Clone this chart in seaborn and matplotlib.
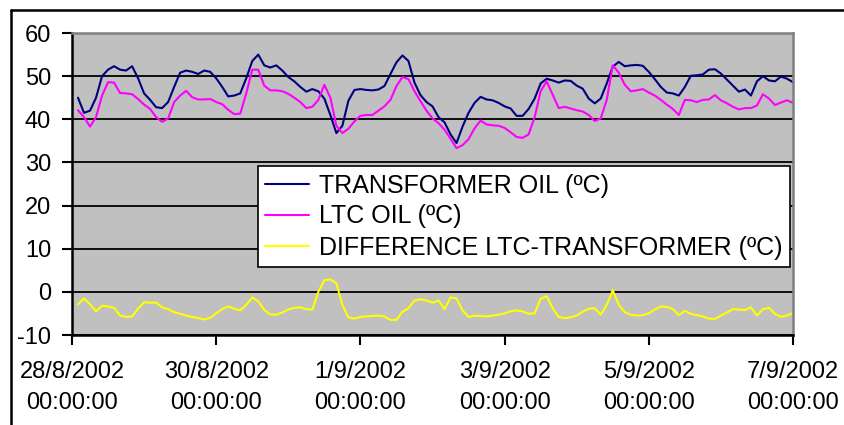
import pandas as pd
import matplotlib
matplotlib.use('Agg')
import matplotlib.pyplot as plt
import seaborn as sns

# readings every 2 hours, 28/8/2002 02:00 .. 7/9/2002 00:00
times = pd.date_range('2002-08-28 02:00', periods=120, freq='2h')

transformer_oil = [
    45, 41.5, 42, 45, 50, 51.5, 52.3, 51.5, 51.3, 52.3, 49.5, 46,
    44.5, 42.8, 42.6, 44, 47.5, 50.8, 51.3, 51, 50.5, 51.3, 51, 49.5,
    47.5, 45.3, 45.5, 46, 49.5, 53.5, 55, 52.5, 52, 52.5, 51.3, 49.8,
    48.8, 47.5, 46.4, 47, 46.5, 44.8, 41, 36.8, 38.5, 44.3, 46.8, 47,
    46.8, 46.7, 46.9, 47.7, 50.5, 53.2, 54.8, 53.5, 48.5, 45.6, 44, 43,
    40.5, 39.3, 36.5, 34.5, 38.3, 41.5, 43.8, 45.2, 44.6, 44.4, 43.8, 43,
    42.5, 40.8, 40.8, 42.4, 44.8, 48.3, 49.4, 49, 48.5, 49, 48.9, 47.8,
    47.1, 44.8, 43.7, 44.8, 48.3, 52.2, 53.3, 52.3, 52.5, 52.6, 52.4, 51,
    49.3, 47.5, 46.2, 46, 45.5, 47.5, 50.1, 50.2, 50.4, 51.5, 51.6, 50.6,
    49.2, 47.8, 46.4, 46.9, 45.5, 48.8, 50, 49, 48.8, 49.9, 49.4, 48.6,
]

ltc_oil = [
    42.1, 40.5, 38.3, 40.5, 45.5, 48.6, 48.5, 46.1, 46, 45.8, 44.7, 43.4,
    42.4, 40.5, 39.4, 40.2, 44, 45.5, 46.6, 45.1, 44.6, 44.6, 44.7, 44,
    43.5, 42.2, 41.2, 41.3, 46, 51.5, 51.5, 47.8, 46.7, 46.7, 46.5, 45.9,
    45, 44, 42.6, 42.9, 44.5, 48, 45, 38.5, 36.8, 37.8, 39.5, 40.8,
    41, 41, 42, 43, 44.5, 47.7, 49.8, 49.3, 46.5, 44.2, 42, 40.2,
    39.1, 37.6, 35.5, 33.3, 34, 35.4, 37.9, 39.7, 38.8, 38.6, 38.5, 38,
    37, 35.9, 35.7, 36.5, 40.5, 46.5, 48.8, 45.7, 42.6, 42.9, 42.5, 42.1,
    41.8, 41, 39.6, 40.2, 44.5, 52.5, 50.8, 48, 46.5, 46.7, 47, 46.2,
    45.5, 44.5, 43.4, 42.4, 41, 44.5, 44.4, 44, 44.5, 44.6, 45.6, 44.4,
    43.7, 42.9, 42.3, 42.6, 42.6, 43.2, 45.8, 44.8, 43.3, 43.9, 44.4, 43.8,
]

difference = [
    -2.9, -1.5, -2.9, -4.5, -3.2, -3.4, -3.7, -5.5, -5.8, -5.7, -3.9, -2.4,
    -2.5, -2.5, -3.6, -4, -4.7, -5.1, -5.5, -5.8, -6.1, -6.4, -6, -5,
    -4, -3.4, -3.9, -4.3, -3, -1.3, -2.2, -4.2, -5.2, -5.3, -4.8, -4.1,
    -3.7, -3.6, -4, -4.1, 0, 2.7, 2.9, 2, -3, -5.9, -6.2, -5.8,
    -5.7, -5.6, -5.5, -5.7, -6.5, -6.5, -4.6, -3.8, -2, -1.7, -2, -2.5,
    -2, -4, -1.3, -1.5, -4.3, -5.8, -5.5, -5.6, -5.7, -5.5, -5.3, -5,
    -4.5, -4.3, -4.5, -5.1, -5, -1.6, -1, -3.8, -5.8, -6.1, -5.9, -5.5,
    -4.6, -3.9, -3.8, -5.3, -3, 0.4, -3, -4.7, -5.3, -5.5, -5.4, -5,
    -4.1, -3.4, -3.5, -4, -5.4, -4.4, -5.1, -5.4, -5.7, -6.2, -6.3, -5.5,
    -4.8, -4, -4.1, -4.2, -3.6, -5.5, -4, -3.7, -5.1, -5.8, -5.5, -4.9,
]

series_names = ['TRANSFORMER OIL (ºC)', 'LTC OIL (ºC)', 'DIFFERENCE LTC-TRANSFORMER (ºC)']
series_colors = ['#000080', '#FF00FF', '#FFFF00']

tick_dates = pd.to_datetime(['2002-08-28', '2002-08-30', '2002-09-01',
                             '2002-09-03', '2002-09-05', '2002-09-07'])
tick_labels = ['28/8/2002\n00:00:00', '30/8/2002\n00:00:00', '1/9/2002\n00:00:00',
               '3/9/2002\n00:00:00', '5/9/2002\n00:00:00', '7/9/2002\n00:00:00']
y_ticks = [-10, 0, 10, 20, 30, 40, 50, 60]

df = pd.DataFrame({'time': list(times) * 3,
                   'value': transformer_oil + ltc_oil + difference,
                   'series': [series_names[0]] * 120 + [series_names[1]] * 120 + [series_names[2]] * 120})

sns.set_style('white')
plt.rcParams['font.family'] = ['Liberation Sans', 'DejaVu Sans']
plt.rcParams['axes.unicode_minus'] = False
plt.rcParams['text.color'] = 'black'
plt.rcParams['xtick.color'] = 'black'
plt.rcParams['ytick.color'] = 'black'
plt.rcParams['xtick.labelcolor'] = 'black'
plt.rcParams['ytick.labelcolor'] = 'black'

fig = plt.figure(figsize=(8.44, 4.25), dpi=100)
ax = fig.add_axes([72 / 844, 90 / 425, 721 / 844, 302 / 425])
ax.set_facecolor('#C0C0C0')

sns.lineplot(data=df, x='time', y='value', hue='series', hue_order=series_names,
             palette=series_colors, linewidth=1.5, ax=ax)

ax.set_xlim(tick_dates[0], tick_dates[-1])
ax.set_ylim(-10, 60)
ax.set_yticks(y_ticks)
ax.set_yticklabels([str(v) for v in y_ticks])
ax.set_xticks(tick_dates)
ax.set_xticklabels(tick_labels, linespacing=1.5)
ax.set_xlabel('')
ax.set_ylabel('')
ax.tick_params(axis='both', labelsize=17, direction='out', length=7, width=1.5,
               color='black', labelcolor='black')
ax.tick_params(axis='y', pad=8, left=True)
ax.tick_params(axis='x', pad=12, bottom=True)

ax.yaxis.grid(True, color='black', linewidth=1.3)
ax.xaxis.grid(False)
ax.set_axisbelow(True)

for side in ['left', 'bottom']:
    ax.spines[side].set_color('black')
    ax.spines[side].set_linewidth(1.8)
for side in ['top', 'right']:
    ax.spines[side].set_color('#808080')
    ax.spines[side].set_linewidth(1.8)

handles, labels = ax.get_legend_handles_labels()
leg = ax.legend(handles, labels, loc='lower right',
                bbox_to_anchor=(790 / 844, 158 / 425), bbox_transform=fig.transFigure,
                fontsize=18, frameon=True, fancybox=False, framealpha=1,
                edgecolor='black', borderpad=0.3, labelspacing=0.28,
                handlelength=1.75, handletextpad=0.4, borderaxespad=0,
                labelcolor='black')
leg.get_frame().set_linewidth(1.2)
for line in leg.get_lines():
    line.set_linewidth(1.5)

# outer chart frame (only left and top edges visible)
fig.add_artist(plt.Line2D([11 / 844, 11 / 844], [0, 1 - 10 / 425],
                          transform=fig.transFigure, color='black', linewidth=1.8))
fig.add_artist(plt.Line2D([11 / 844, 1], [1 - 10 / 425, 1 - 10 / 425],
                          transform=fig.transFigure, color='black', linewidth=1.8))

fig.savefig('out.png', dpi=100)
